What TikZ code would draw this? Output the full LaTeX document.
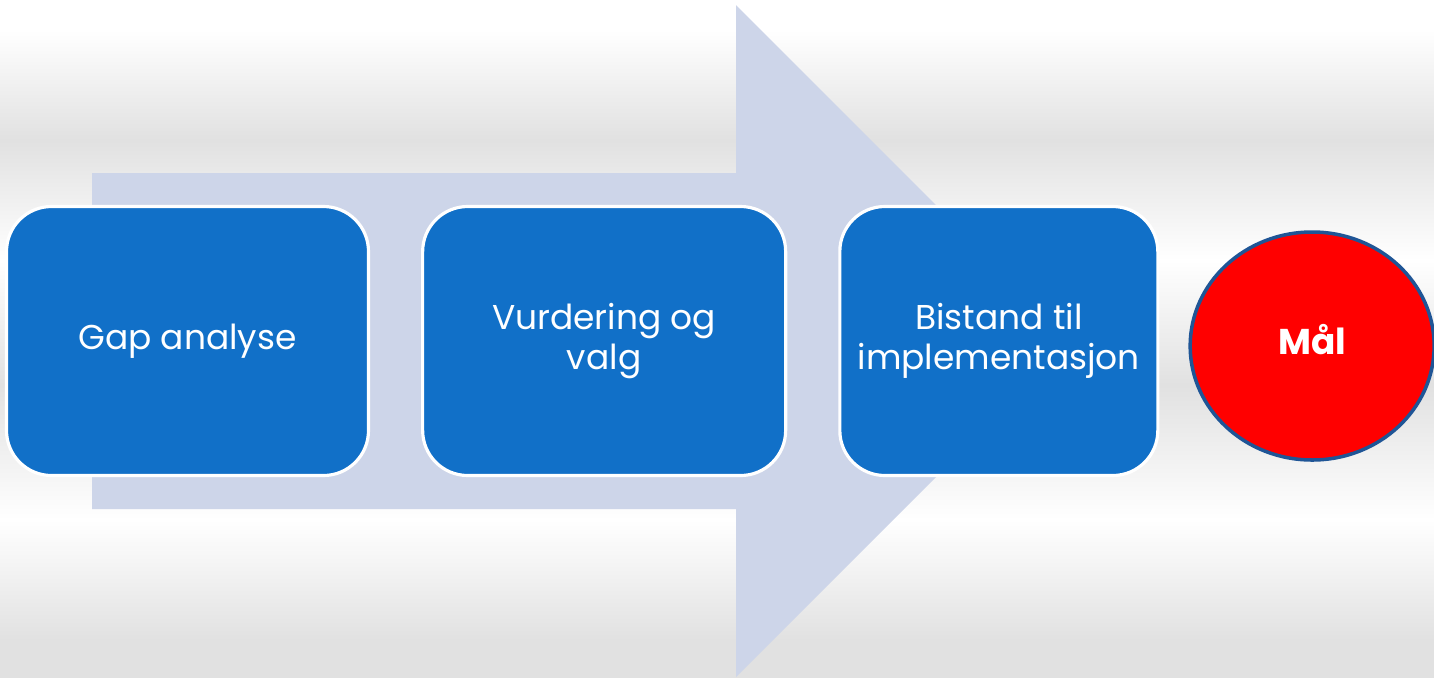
\documentclass[tikz,border=0pt]{standalone}
\usepackage{fontspec}
\setmainfont{Poppins}
\usetikzlibrary{positioning}
\usetikzlibrary{shapes.geometric}
\definecolor{boxblue}{RGB}{17,112,200}
\definecolor{arrowgrey}{RGB}{205,213,233}
\definecolor{bggrey}{RGB}{225,225,225}
\definecolor{ringblue}{RGB}{31,85,150}
\newcommand{\band}[4]{\shade[top color=#3, bottom color=#4, draw = none] (0,#1) rectangle (14.34,#2);}
\newcommand{\bigarrow}{\fill[arrowgrey] (0.92,5.04) -- (7.36,5.04) -- (7.36,6.72) -- (10.72,3.36) -- (7.36,0) -- (7.36,1.68) -- (0.92,1.68) -- cycle;}

\begin{document}
\begin{tikzpicture}[
		stage/.style={rectangle, rounded corners=0.45cm, fill=boxblue, draw=white, line width=0.9pt, text=white, align=center, minimum height=2.69cm, inner sep=0pt, font=\fontsize{9.8}{11.3}\selectfont},
		goal/.style={ellipse, fill=red, draw=ringblue, line width=1pt, text=white, minimum width=2.44cm, minimum height=2.28cm, inner sep=0pt, font=\fontsize{10.2}{11.5}\selectfont\bfseries}
	]
				
					\useasboundingbox (0,0) rectangle (14.34,6.77);
					
					\band{6.47}{6.77}{white}{white}
					\band{5.37}{6.47}{white}{bggrey}
					\band{4.17}{5.37}{bggrey}{white}
					\band{2.92}{4.17}{white}{bggrey}
					\band{1.57}{2.92}{bggrey}{white}
					\band{0.37}{1.57}{white}{bggrey}
					\band{0}{0.37}{bggrey}{bggrey}
					
					\bigarrow
					
					\node[stage, minimum width=3.62cm] (gap) at (1.875,3.36) {\raisebox{-0.04cm}{Gap analyse}};
					
					\node[stage, minimum width=3.63cm, right=0.51cm of gap] (vurdering) {Vurdering og\\valg};
					
					\node[stage, minimum width=3.18cm, right=0.51cm of vurdering] (bistand) {Bistand til\\implementasjon};
					
					\node[goal, right=0.29cm of bistand, yshift=-0.05cm] (maal) {\raisebox{0.13cm}{Mål}};
										
				\end{tikzpicture}
\end{document}
